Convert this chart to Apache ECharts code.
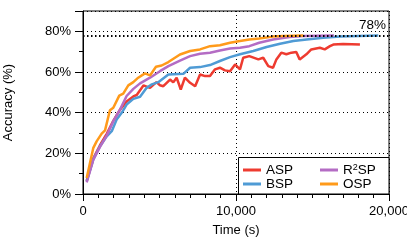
<!DOCTYPE html>
<html><head><meta charset="utf-8">
<script src="https://cdn.jsdelivr.net/npm/echarts@6/dist/echarts.min.js"></script>
<style>html,body{margin:0;padding:0;background:#fff}#c{width:407px;height:244px}</style>
</head><body><div id="c"></div>
<script>
// ---- data ----
var aspT = [240,675,1110,1550,1980,2420,2850,3290,3510,3950,4380,4800,5030,5250,5690,5900,6120,6390,6660,7000,7330,7650,7980,8300,8630,8950,9280,9610,9940,10260,10470,10870,11460,11780,12110,12420,12640,12960,13290,13620,13940,14160,14600,14920,15480,15800,16140,16360,17000,18100];
var aspY = [6.5,17.5,24,29.6,36,41.5,45.5,48,48.7,53.4,52.2,55,53.5,53,56.3,54.9,57.2,51.4,57.2,54.7,53,58.8,58,58,61.3,62.1,60.8,60.4,63.7,61.3,67,67.8,66.2,67,62.9,62.1,66.2,69.5,68.7,69.5,69.8,66.2,68.7,71.1,71.9,71.1,72.7,73.5,73.8,73.5];
var bspT = [240,675,1110,1550,1880,2200,2530,2850,3290,3730,4160,4500,4920,5580,6560,7000,7650,8300,8950,9610,10260,11130,12000,12880,13750,14620,15700,16800,18000,19300];
var bspY = [6.3,17,23.5,28.4,30.9,36.6,39.9,44,46.8,47.8,52.2,53.9,55,58.8,59.1,62.1,62.4,63.4,65.4,67.3,68.7,70.3,72.3,73.9,75.2,76,76.8,77.4,77.7,77.9];
var r2spT = [240,675,1110,1550,1980,2420,2850,3290,3730,4380,5030,5580,6340,7000,7650,8300,8950,9610,10260,10870,11520,12420,13500,14400,16400];
var r2spY = [5.7,16.9,23.2,28.7,35.8,41.5,48.2,51.7,54.4,57.2,60.4,62.9,65.6,67.8,69,69.5,70.6,71.6,71.9,72.7,74.4,76,77.2,77.7,78];
var ospT = [240,675,890,1220,1440,1760,1980,2370,2630,2960,3290,3610,4050,4380,4770,5140,5580,6340,7000,7650,8300,8950,9610,10260,10870,11520,12420,13070,14400];
var ospY = [7.9,22.7,25.9,29.7,31.3,41.2,42.4,48.4,49.4,53.4,55,57.2,59.3,58.3,62.6,63.2,64.9,68.6,70.3,71.1,72.7,73.2,74.4,75.2,76,76.5,77.4,77.7,78];
var seriesNames = ['ASP','BSP','R2SP','OSP'];
var yTickLabels = ['0%','20%','40%','60%','80%'];
var xTickLabels = ['0','10,000','20,000'];
var refLevel = 78;
var refLabel = '78%';

var colors = {ASP:'#ee3b30', BSP:'#4f9bd5', R2SP:'#b46cc4', OSP:'#ff9a1a'};
function zip(t, y){ return t.map(function(v,i){ return [v, y[i]]; }); }
var seriesData = {ASP: zip(aspT, aspY), BSP: zip(bspT, bspY), R2SP: zip(r2spT, r2spY), OSP: zip(ospT, ospY)};
var FONT = '"Liberation Sans", Arial, sans-serif';

var series = seriesNames.map(function(n){
  return {name: n, type: 'line', data: seriesData[n], symbol: 'none', showSymbol: false,
    lineStyle: {color: colors[n], width: 2.5}, itemStyle: {color: colors[n]}, z: 3, animation: false};
});
series.push({
  type: 'line', data: [], silent: true, animation: false,
  markLine: {symbol: 'none', silent: true, animation: false,
    lineStyle: {color: '#000', width: 2, type: [1.5, 2.5]},
    label: {show: true, position: 'insideEndTop', formatter: refLabel, color: '#000', fontSize: 13.5, fontFamily: FONT, distance: [3, 3]},
    data: [{yAxis: refLevel}]}
});

var legendCommon = {
  orient: 'vertical', icon: 'rect', itemWidth: 18, itemHeight: 3, itemGap: 0, z: 20,
  textStyle: {color: '#000', fontSize: 13.5, fontFamily: FONT, lineHeight: 13,
    rich: {n: {fontSize: 13.5, fontFamily: FONT, color: '#000'}, s: {fontSize: 9, fontFamily: FONT, color: '#000', verticalAlign: 'top', padding: [0,0,6,0]}}},
  formatter: function(name){ return name === 'R2SP' ? '{n|R}{s|2}{n|SP}' : name; },
  top: 163
};

var chart = echarts.init(document.getElementById('c'), null, {renderer: 'canvas'});
chart.setOption({
  animation: false,
  color: seriesNames.map(function(n){ return colors[n]; }),
  grid: {left: 83, right: 18, top: 11, bottom: 50, show: true, borderColor: '#000', borderWidth: 1, backgroundColor: 'transparent', outerBoundsMode: 'none', containLabel: false},
  xAxis: {
    type: 'value', min: 0, max: 20000, interval: 10000,
    name: 'Time (s)', nameLocation: 'middle', nameGap: 30,
    nameTextStyle: {color: '#000', fontSize: 13, fontFamily: FONT},
    axisLine: {lineStyle: {color: '#000', width: 1}},
    axisTick: {show: true, length: 7, lineStyle: {color: '#000'}},
    minorTick: {show: true, splitNumber: 10, length: 4, lineStyle: {color: '#000'}},
    axisLabel: {color: '#000', fontSize: 13, fontFamily: FONT, margin: 11,
      formatter: function(v){ return xTickLabels[Math.round(v/10000)]; }},
    splitLine: {show: true, lineStyle: {color: '#000', width: 1, type: [1, 3]}}
  },
  yAxis: {
    type: 'value', min: 0, max: 90, interval: 20,
    name: 'Accuracy (%)', nameLocation: 'middle', nameGap: 68,
    nameTextStyle: {color: '#000', fontSize: 13, fontFamily: FONT},
    axisLine: {lineStyle: {color: '#000', width: 1}},
    axisTick: {show: true, length: 8, lineStyle: {color: '#000'}},
    minorTick: {show: true, splitNumber: 2, length: 4, lineStyle: {color: '#000'}},
    axisLabel: {color: '#000', fontSize: 13, fontFamily: FONT, margin: 12,
      formatter: function(v){ var i = Math.round(v/20); return (v % 20 === 0 && i < yTickLabels.length) ? yTickLabels[i] : ''; }},
    splitLine: {show: true, lineStyle: {color: '#000', width: 1, type: [1, 3]}}
  },
  legend: [
    Object.assign({}, legendCommon, {data: ['ASP','BSP'], left: 243, padding: 0}),
    Object.assign({}, legendCommon, {data: ['R2SP','OSP'], left: 320, padding: 0})
  ],
  graphic: [{type: 'rect', shape: {x: 238.5, y: 157.5, width: 150.5, height: 36.5},
    style: {fill: '#fff', stroke: '#000', lineWidth: 1}, z: 2}],
  series: series
});
</script></body></html>
